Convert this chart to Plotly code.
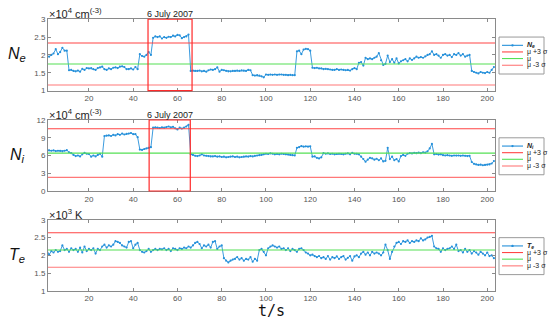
import plotly.graph_objects as go

t = list(range(1, 204))

ne = [1.97, 1.95, 2.00, 2.04, 2.16, 2.02, 2.08, 2.20, 2.12, 2.12,
      1.57, 1.58, 1.55, 1.54, 1.56, 1.53, 1.61, 1.58, 1.63, 1.62,
      1.63, 1.60, 1.58, 1.63, 1.65, 1.67, 1.60, 1.58, 1.62, 1.60,
      1.64, 1.65, 1.63, 1.67, 1.68, 1.66, 1.60, 1.60, 1.62, 1.59,
      1.66, 1.60, 2.02, 1.97, 1.95, 2.00, 2.08, 2.00, 2.48, 2.52,
      2.50, 2.52, 2.46, 2.50, 2.48, 2.51, 2.50, 2.54, 2.52, 2.56,
      2.55, 2.47, 2.50, 2.52, 2.57, 1.55, 1.56, 1.55, 1.55, 1.56,
      1.54, 1.55, 1.53, 1.57, 1.59, 1.58, 1.60, 1.65, 1.53, 1.58,
      1.57, 1.55, 1.54, 1.54, 1.55, 1.55, 1.56, 1.55, 1.57, 1.56,
      1.55, 1.58, 1.57, 1.43, 1.42, 1.43, 1.42, 1.40, 1.37, 1.45,
      1.44, 1.45, 1.44, 1.45, 1.44, 1.45, 1.45, 1.44, 1.44, 1.43,
      1.44, 1.43, 1.43, 2.10, 2.12, 2.02, 2.15, 2.17, 2.16, 2.12,
      1.64, 1.63, 1.64, 1.62, 1.62, 1.60, 1.61, 1.60, 1.59, 1.58,
      1.58, 1.60, 1.58, 1.59, 1.58, 1.57, 1.58, 1.56, 1.60, 1.63,
      1.60, 1.78, 1.80, 1.70, 1.92, 1.88, 1.90, 1.88, 1.92, 1.95,
      2.05, 1.85, 1.72, 1.75, 1.98, 1.80, 1.88, 1.78, 1.90, 1.76,
      1.82, 1.85, 1.88, 1.82, 1.90, 1.86, 1.90, 1.95, 1.92, 1.94,
      1.92, 1.96, 2.00, 2.02, 2.10, 2.00, 2.02, 1.98, 1.92, 2.00,
      2.02, 1.98, 2.00, 1.94, 2.02, 2.00, 2.05, 1.98, 2.02, 1.95,
      1.98, 2.00, 1.55, 1.52, 1.50, 1.48, 1.52, 1.50, 1.49, 1.52,
      1.50, 1.58, 1.66]

ni = [6.95, 6.85, 6.80, 6.85, 6.75, 6.80, 6.78, 6.70, 6.80, 6.90,
      6.55, 6.40, 6.10, 5.90, 6.00, 5.85, 6.20, 6.45, 6.30, 6.25,
      5.80, 6.00, 5.85, 6.10, 6.30, 5.80, 9.30, 9.35, 9.40, 9.30,
      9.50, 9.40, 9.60, 9.50, 9.70, 9.55, 9.65, 9.70, 9.80, 9.60,
      9.60, 9.10, 7.00, 6.95, 7.10, 7.20, 7.30, 7.40, 10.70, 10.75,
      10.70, 10.65, 10.75, 10.70, 10.80, 10.90, 10.75, 10.85, 10.60, 10.40,
      10.70, 10.55, 10.70, 10.90, 11.20, 6.20, 6.10, 5.95, 5.90, 6.00,
      6.20, 6.00, 5.95, 5.90, 5.85, 5.85, 5.90, 5.80, 5.85, 5.75,
      5.80, 5.70, 5.75, 5.80, 5.85, 5.75, 5.80, 5.70, 5.75, 5.80,
      5.85, 5.80, 5.90, 5.85, 5.95, 6.00, 6.05, 6.10, 6.20, 6.30,
      6.25, 6.35, 6.30, 6.20, 6.25, 6.20, 6.30, 6.25, 6.20, 6.15,
      6.10, 6.05, 6.00, 7.30, 7.40, 7.60, 7.50, 7.55, 7.50, 7.55,
      5.80, 5.85, 5.60, 5.50, 5.70, 6.40, 6.30, 6.35, 6.25, 6.30,
      6.20, 6.25, 6.30, 6.25, 6.20, 6.30, 6.35, 6.20, 6.45, 6.30,
      6.30, 6.20, 5.80, 5.40, 4.95, 5.30, 5.60, 5.50, 5.30, 5.45,
      5.20, 5.50, 5.00, 5.10, 7.30, 5.40, 5.80, 5.20, 5.40, 5.00,
      5.90, 6.10, 5.95, 6.30, 6.40, 6.35, 6.45, 6.40, 6.50, 6.40,
      6.55, 6.50, 6.70, 7.20, 7.95, 6.20, 6.25, 6.15, 6.20, 6.05,
      6.00, 6.05, 6.00, 5.95, 6.00, 5.98, 6.00, 5.95, 6.00, 5.95,
      5.90, 5.95, 4.90, 4.60, 4.50, 4.40, 4.45, 4.35, 4.40, 4.45,
      4.50, 4.65, 5.05]

te = [2.15, 2.02, 2.12, 2.08, 2.15, 2.10, 2.12, 2.28, 2.15, 2.18,
      2.10, 2.20, 2.15, 2.18, 2.10, 2.22, 2.08, 2.25, 2.12, 2.18,
      2.15, 2.20, 2.05, 2.18, 2.15, 2.25, 2.30, 2.22, 2.28, 2.25,
      2.30, 2.40, 2.38, 2.35, 2.28, 2.25, 2.22, 2.38, 2.40, 2.20,
      2.30, 2.35, 2.15, 2.10, 2.08, 2.12, 2.18, 2.10, 2.15, 2.18,
      2.15, 2.18, 2.17, 2.20, 2.15, 2.18, 2.12, 2.20, 2.18, 2.15,
      2.20, 2.18, 2.22, 2.20, 2.25, 2.22, 2.28, 2.35, 2.38, 2.32,
      2.20, 2.28, 2.25, 2.30, 2.22, 2.38, 2.40, 2.18, 2.25, 2.28,
      1.92, 1.85, 1.80, 1.85, 1.88, 1.90, 1.95, 1.88, 1.92, 1.85,
      1.90, 1.88, 1.95, 1.82, 1.90, 1.85, 2.15, 2.18, 2.10, 2.00,
      2.20, 2.25, 2.28, 2.25, 2.22, 2.25, 2.18, 2.20, 2.15, 2.20,
      2.12, 2.18, 2.15, 2.10, 2.18, 2.20, 2.15, 2.08, 2.05, 2.00,
      2.02, 1.98, 1.95, 1.98, 1.92, 1.95, 1.90, 1.98, 1.88, 1.95,
      1.92, 1.97, 1.90, 1.95, 1.98, 1.88, 1.93, 1.98, 1.85, 1.97,
      2.00, 1.95, 2.05, 2.10, 2.02, 2.08, 2.00, 2.10, 2.05, 2.08,
      2.05, 2.00, 2.08, 2.30, 2.15, 1.90, 2.10, 2.25, 2.35, 2.38,
      2.32, 2.40, 2.38, 2.42, 2.35, 2.40, 2.38, 2.42, 2.40, 2.48,
      2.42, 2.45, 2.50, 2.52, 2.55, 2.25, 2.20, 2.18, 2.10, 2.20,
      2.15, 2.18, 2.20, 2.25, 2.18, 2.30, 2.12, 2.15, 2.08, 2.18,
      2.10, 2.15, 2.05, 2.12, 2.08, 2.02, 2.10, 2.05, 2.00, 2.08,
      1.98, 2.00, 1.92]

# mean, upper (mu+3sigma), lower (mu-3sigma) for each panel
ne_stats = [1.745, 2.335, 1.155]
ni_stats = [6.41, 10.52, 2.30]
te_stats = [2.15, 2.635, 1.665]

ne_yticks = [1, 1.5, 2, 2.5, 3]
ni_yticks = [0, 3, 6, 9, 12]
te_yticks = [1, 1.5, 2, 2.5, 3]
xticks = [20, 40, 60, 80, 100, 120, 140, 160, 180, 200]

ne_window = [46.7, 66.6]
ni_window = [47.2, 65.8]

legend_names = ["μ +3 σ", "μ", "μ -3 σ"]

BLUE = "#2590da"
RED = "#ff4545"
RED2 = "#ff7878"
GREEN = "#55e055"
AX = "#8a8a8a"

W, H = 550, 326
def py(v):
    return 1 - v / H

panels = [
    dict(y=ne, stats=ne_stats, ticks=ne_yticks, rng=[1, 3], top=15.7, bot=89,
         name="<b><i>N<sub>e</sub></i></b>", label="<i>N<sub>e</sub></i>",
         unit="×10<sup>4</sup> cm<sup>(-3)</sup>", window=ne_window),
    dict(y=ni, stats=ni_stats, ticks=ni_yticks, rng=[0, 12], top=119.3, bot=192.3,
         name="<b><i>N<sub>i</sub></i></b>", label="<i>N<sub>i</sub></i>",
         unit="×10<sup>4</sup> cm<sup>(-3)</sup>", window=ni_window),
    dict(y=te, stats=te_stats, ticks=te_yticks, rng=[1, 3], top=222, bot=295,
         name="<b><i>T<sub>e</sub></i></b>", label="<i>T<sub>e</sub></i>",
         unit="×10<sup>3</sup> K", window=None),
]

fig = go.Figure()
layout = dict(width=W, height=H, margin=dict(l=0, r=0, t=0, b=0),
              paper_bgcolor="white", plot_bgcolor="white", showlegend=False,
              font=dict(family="Liberation Sans, Arial", color="#333333"))
shapes = []
annotations = []
xdom = [48 / W, 495 / W]

for i, p in enumerate(panels):
    k = "" if i == 0 else str(i + 1)
    xa, ya = "x" + k, "y" + k
    mu, up, lo = p["stats"]
    dom = [py(p["bot"]), py(p["top"])]
    fig.add_trace(go.Scatter(x=t, y=p["y"], mode="lines+markers", name=p["name"],
                             line=dict(color=BLUE, width=0.9), marker=dict(size=2.2, color=BLUE),
                             xaxis=xa, yaxis=ya))
    for val, col, nm in [(up, RED, legend_names[0]), (mu, GREEN, legend_names[1]), (lo, RED2, legend_names[2])]:
        fig.add_trace(go.Scatter(x=[t[0] - 1, t[-1] + 1], y=[val, val], mode="lines", name=nm,
                                 line=dict(color=col, width=1.1), xaxis=xa, yaxis=ya))
    axcommon = dict(showline=True, mirror="ticks", linecolor=AX, linewidth=1, ticks="inside",
                    ticklen=3, tickcolor=AX, showgrid=False, zeroline=False,
                    tickfont=dict(size=8, color="#555555"))
    layout["xaxis" + k] = dict(domain=xdom, range=[1.5, 203.5], tickvals=xticks,
                               anchor=ya, **axcommon)
    layout["yaxis" + k] = dict(domain=dom, range=p["rng"], tickvals=p["ticks"],
                               anchor=xa, **axcommon)
    # panel label
    annotations.append(dict(text=p["label"], xref="paper", yref="paper",
                            x=17 / W, y=(dom[0] + dom[1]) / 2, showarrow=False,
                            font=dict(size=16, color="#111111"), xanchor="center", yanchor="middle"))
    # unit label
    annotations.append(dict(text=p["unit"], xref="paper", yref="paper",
                            x=47 / W, y=dom[1], showarrow=False, xanchor="left", yanchor="bottom",
                            font=dict(size=11, color="#222222"), yshift=-3))
    if p["window"] is not None:
        shapes.append(dict(type="rect", xref=xa, yref=ya + " domain",
                           x0=p["window"][0], x1=p["window"][1], y0=0, y1=1,
                           line=dict(color="#ff2a2a", width=1.2), fillcolor="rgba(0,0,0,0)"))
        annotations.append(dict(text="6 July 2007", xref=xa, yref="paper",
                                x=(p["window"][0] + p["window"][1]) / 2, y=dom[1],
                                showarrow=False, xanchor="center", yanchor="bottom",
                                font=dict(size=9, color="#222222"), yshift=-2))
    # legend box (drawn by hand, MATLAB style)
    dy = p["top"] - 15.7
    shapes.append(dict(type="rect", xref="paper", yref="paper", x0=499 / W, x1=544 / W,
                       y0=py(72 + dy), y1=py(34 + dy), line=dict(color="#9a9a9a", width=1),
                       fillcolor="white", layer="above"))
    rows = [42.5, 49.3, 56.1, 63.0]
    cols = [BLUE, RED, GREEN, RED2]
    names = [p["name"]] + legend_names
    for r, c, nm in zip(rows, cols, names):
        yy = py(r + dy)
        shapes.append(dict(type="line", xref="paper", yref="paper", x0=502 / W, x1=523 / W,
                           y0=yy, y1=yy, line=dict(color=c, width=1.1), layer="above"))
        annotations.append(dict(text=nm, xref="paper", yref="paper", x=524.5 / W, y=yy,
                                showarrow=False, xanchor="left", yanchor="middle",
                                font=dict(size=7, color="#222222")))
    yy = py(rows[0] + dy)
    shapes.append(dict(type="circle", xref="paper", yref="paper", x0=511.3 / W, x1=513.7 / W,
                       y0=yy - 1.2 / H, y1=yy + 1.2 / H, line=dict(color=BLUE, width=0),
                       fillcolor=BLUE, layer="above"))

annotations.append(dict(text="t/s", xref="paper", yref="paper", x=271 / W, y=py(316),
                        showarrow=False, xanchor="center", yanchor="middle",
                        font=dict(size=15, color="#111111", family="DejaVu Sans Mono")))

layout["shapes"] = shapes
layout["annotations"] = annotations
fig.update_layout(**layout)
fig.write_html("out.html", config={"displayModeBar": False},
               post_script="document.body.style.margin='0';document.body.style.overflow='hidden';")
